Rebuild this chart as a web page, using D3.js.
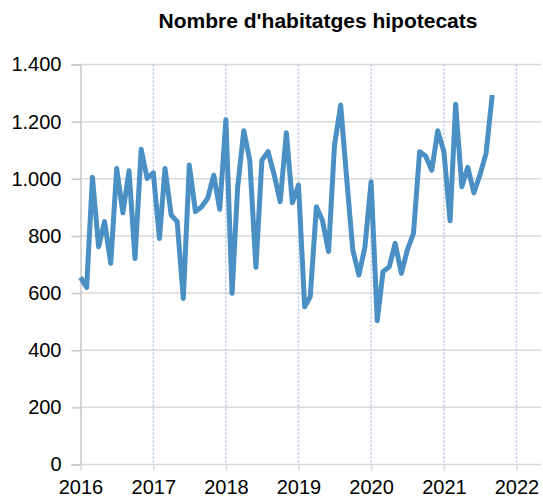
<!DOCTYPE html>
<html lang="ca">

<head>
  <meta charset="UTF-8">
  <title>Nombre d'habitatges hipotecats</title>
  <style>
    body {
      margin: 0;
      background: #fff;
    }

    #chart text {
      font-family: "Liberation Sans", Arial, sans-serif;
      fill: #000;
    }
  </style>
</head>

<body>

  <div id="chart"></div>

  <script src="https://cdnjs.cloudflare.com/ajax/libs/d3/7.8.5/d3.min.js"></script>
  <script>
    const title = "Nombre d'habitatges hipotecats"

    // monthly values, Jan 2016 - Sep 2021
    const startYear = 2016
    const values = [
      655, 620, 1005, 762, 850, 704, 1036, 881, 1028, 721, 1103, 1001,
      1021, 791, 1036, 873, 850, 581, 1048, 885, 902, 931, 1013, 893,
      1207, 599, 970, 1168, 1065, 690, 1065, 1095, 1013, 920, 1161, 916,
      978, 552, 587, 902, 855, 745, 1118, 1258, 995, 750, 663, 762,
      990, 503, 675, 692, 774, 669, 750, 809, 1095, 1080, 1030, 1168,
      1095, 853, 1261, 972, 1040, 951, 1013, 1089, 1293
    ]

    const yearTicks = [2016, 2017, 2018, 2019, 2020, 2021, 2022]
    const yTicks = [0, 200, 400, 600, 800, 1000, 1200, 1400]

    const data = values.map((v, i) => ({
      date: new Date(startYear + Math.floor(i / 12), i % 12, 1),
      value: v
    }))

    const W = 543
    const H = 500
    const margin = { top: 64.5, right: 2, bottom: 35.5, left: 80.5 }
    const plotRight = 516.5 // 2022 position
    const height = H - margin.top - margin.bottom

    const locale = d3.formatLocale({ decimal: ',', thousands: '.', grouping: [3], currency: ['', ' €'] })
    const fmt = locale.format(',.0f')

    const x = d3.scaleTime()
      .domain([new Date(2016, 0, 1), new Date(2022, 0, 1)])
      .range([0, plotRight - margin.left])

    const y = d3.scaleLinear()
      .domain([0, 1400])
      .range([height, 0])

    const svg = d3.select('#chart')
      .append('svg')
      .attr('width', W)
      .attr('height', H)

    svg.append('text')
      .attr('x', 318)
      .attr('y', 27.5)
      .attr('text-anchor', 'middle')
      .style('font-size', '21px')
      .style('font-weight', 'bold')
      .text(title)

    const g = svg.append('g')
      .attr('transform', `translate(${margin.left}, ${margin.top})`)

    const gridW = W - margin.right - margin.left

    // horizontal grid
    g.append('g')
      .selectAll('line')
      .data(yTicks)
      .join('line')
      .attr('x1', 0)
      .attr('x2', gridW)
      .attr('y1', d => y(d))
      .attr('y2', d => y(d))
      .attr('stroke', '#d9d9d9')
      .attr('stroke-width', 1.5)

    // dotted year lines
    g.append('g')
      .selectAll('line')
      .data(yearTicks.slice(1))
      .join('line')
      .attr('x1', d => x(new Date(d, 0, 1)))
      .attr('x2', d => x(new Date(d, 0, 1)))
      .attr('y1', 0)
      .attr('y2', height)
      .attr('stroke', '#b4c7e7')
      .attr('stroke-width', 1.5)
      .attr('stroke-dasharray', '2,2')

    // y axis
    const yAxis = g.append('g')
      .call(d3.axisLeft(y)
        .tickValues(yTicks)
        .tickSize(9)
        .tickPadding(10)
        .tickFormat(fmt))
    yAxis.select('.domain').attr('stroke', '#c8c8c8').attr('stroke-width', 1.5)
    yAxis.selectAll('.tick line').attr('stroke', '#c8c8c8').attr('stroke-width', 1.5)
    yAxis.selectAll('text').style('font-size', '20px')

    // x axis
    const xAxis = g.append('g')
      .attr('transform', `translate(0, ${height})`)
      .call(d3.axisBottom(x)
        .tickValues(yearTicks.map(d => new Date(d, 0, 1)))
        .tickSize(6)
        .tickPadding(9)
        .tickFormat(d3.timeFormat('%Y')))
    xAxis.select('.domain').remove()
    xAxis.selectAll('.tick line').attr('stroke', '#d9d9d9').attr('stroke-width', 1.5)
    xAxis.selectAll('text').style('font-size', '20px')

    // series line
    const line = d3.line()
      .x(d => x(d.date))
      .y(d => y(d.value))

    g.append('path')
      .datum(data)
      .attr('fill', 'none')
      .attr('stroke', '#4a90c4')
      .attr('stroke-width', 5)
      .attr('stroke-linejoin', 'round')
      .attr('d', line)
  </script>
</body>

</html>
